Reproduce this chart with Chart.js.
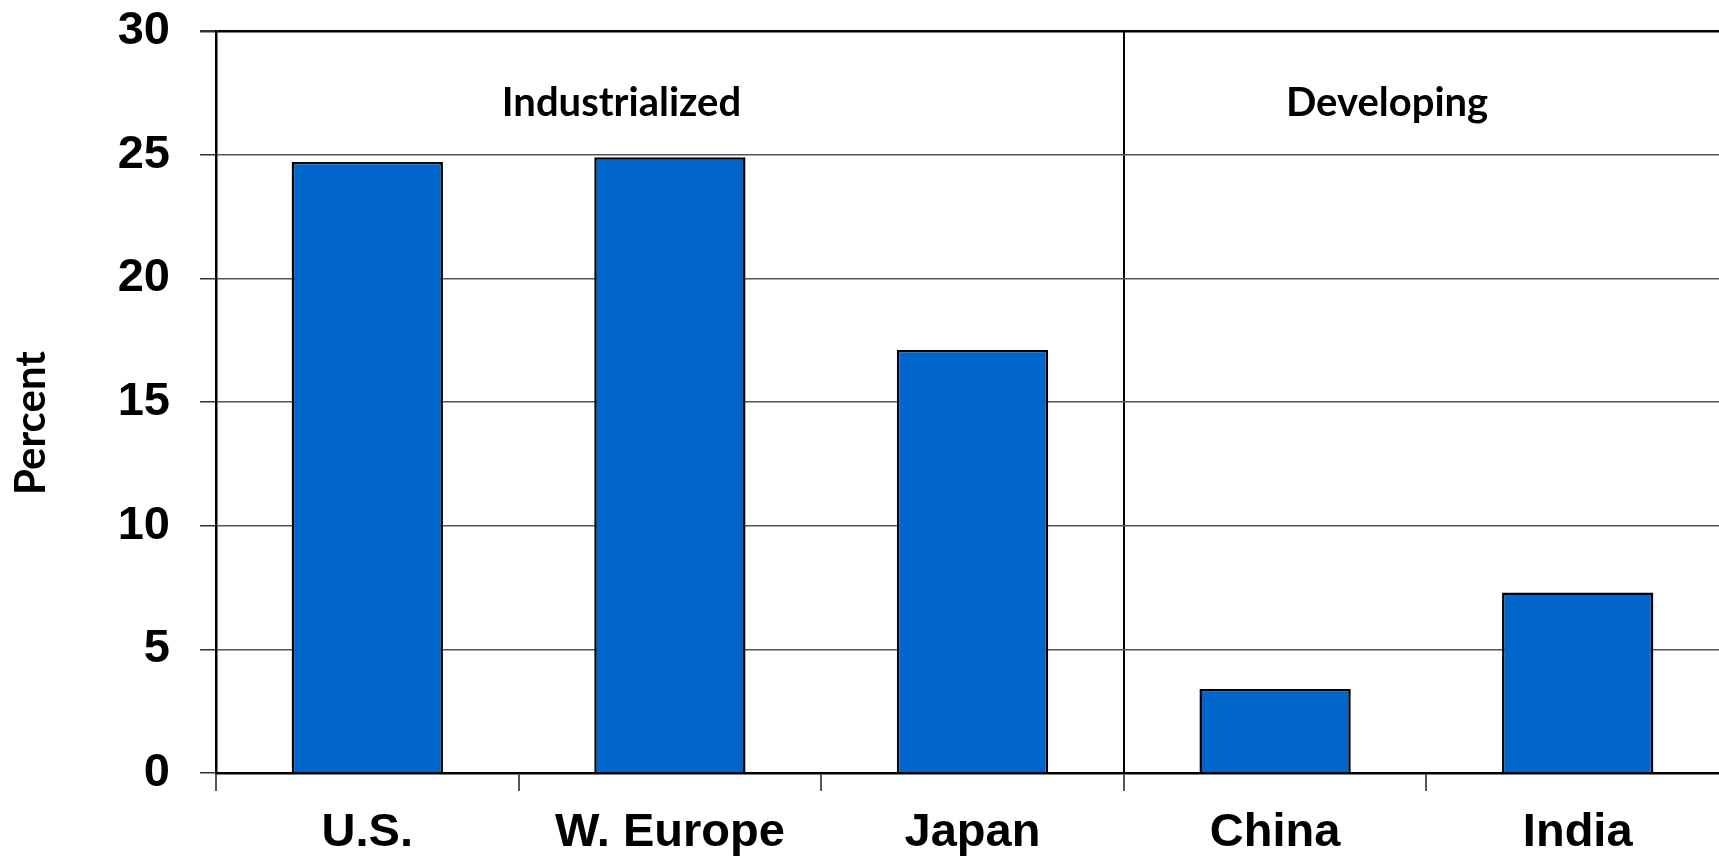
<!DOCTYPE html>
<html lang="en">
<head>
  <meta charset="UTF-8">
  <title>Share by region</title>
  <script src="https://cdn.jsdelivr.net/npm/chart.js"></script>
  <style>
    html, body {
      margin: 0;
      padding: 0;
      background: #fff;
      overflow: hidden;
    }
    .wrap {
      width: 1740px;
      height: 857px;
    }
  </style>
</head>
<body>

  <div class="wrap">
    <canvas id="regionChart"></canvas>
  </div>

  <script>
    // values
    const regions = ['U.S.', 'W. Europe', 'Japan', 'China', 'India'];
    const percents = [24.7, 24.9, 17.1, 3.4, 7.3];
    const yTicks = [0, 5, 10, 15, 20, 25, 30];
    const groupNames = ['Industrialized', 'Developing'];
    const axisTitle = 'Percent';

    const labelFont = { family: 'Liberation Sans, Arial, sans-serif', size: 47, weight: 'bold' };

    // group headings and the rotated axis title
    const annotations = {
      id: 'annotations',
      afterDatasetsDraw(chart) {
        const { ctx, scales } = chart;
        const spots = [0.84, 3.37]; // category units
        ctx.save();
        ctx.fillStyle = '#000';
        ctx.textAlign = 'center';
        ctx.textBaseline = 'middle';
        ctx.font = 'bold 40px Lato, "Open Sans", sans-serif';
        groupNames.forEach((name, i) => {
          ctx.fillText(name, scales.x.getPixelForValue(spots[i]), scales.y.getPixelForValue(27.1));
        });
        ctx.font = 'bold 42px Lato, "Open Sans", sans-serif';
        ctx.translate(31, 423);
        ctx.rotate(-Math.PI / 2);
        ctx.fillText(axisTitle, 0, 0);
        ctx.restore();
      }
    };

    let ctx = document.getElementById('regionChart').getContext('2d');
    let regionChart = new Chart(ctx, {
      type: 'bar',
      data: {
        labels: regions,
        datasets: [{
          data: percents,
          backgroundColor: '#0066CC',
          borderColor: '#000',
          borderWidth: 2.5,
          barPercentage: 0.5,
          categoryPercentage: 1
        }]
      },
      options: {
        responsive: true,
        maintainAspectRatio: false,
        animation: false,
        layout: { padding: { top: 31, right: 11, left: 0, bottom: 0 } },
        plugins: {
          legend: { display: false },
          tooltip: { enabled: false }
        },
        scales: {
          x: {
            offset: true,
            grid: {
              offset: true,
              drawOnChartArea: true,
              color: c => c.index === 3 ? '#000' : 'rgba(0,0,0,0)',
              lineWidth: 2,
              tickColor: '#555',
              tickLength: 18
            },
            border: { color: '#000', width: 2.5 },
            ticks: { color: '#000', font: labelFont, padding: 14, maxRotation: 0 },
            afterFit: s => { s.height = 84; }
          },
          y: {
            min: 0,
            max: 30,
            afterBuildTicks: s => { s.ticks = yTicks.map(v => ({ value: v })); },
            grid: {
              color: c => c.tick && c.tick.value === 30 ? '#000' : '#555',
              lineWidth: c => c.tick && c.tick.value === 30 ? 2.5 : 1.5,
              tickColor: '#333',
              tickLength: 16
            },
            border: { color: '#000', width: 2.5 },
            ticks: { color: '#000', font: labelFont, padding: 30 },
            afterFit: s => {
              s.width = 216;
              s.paddingTop = 0;
              s.paddingBottom = 0;
            }
          }
        }
      },
      plugins: [annotations]
    });
  </script>
</body>
</html>
